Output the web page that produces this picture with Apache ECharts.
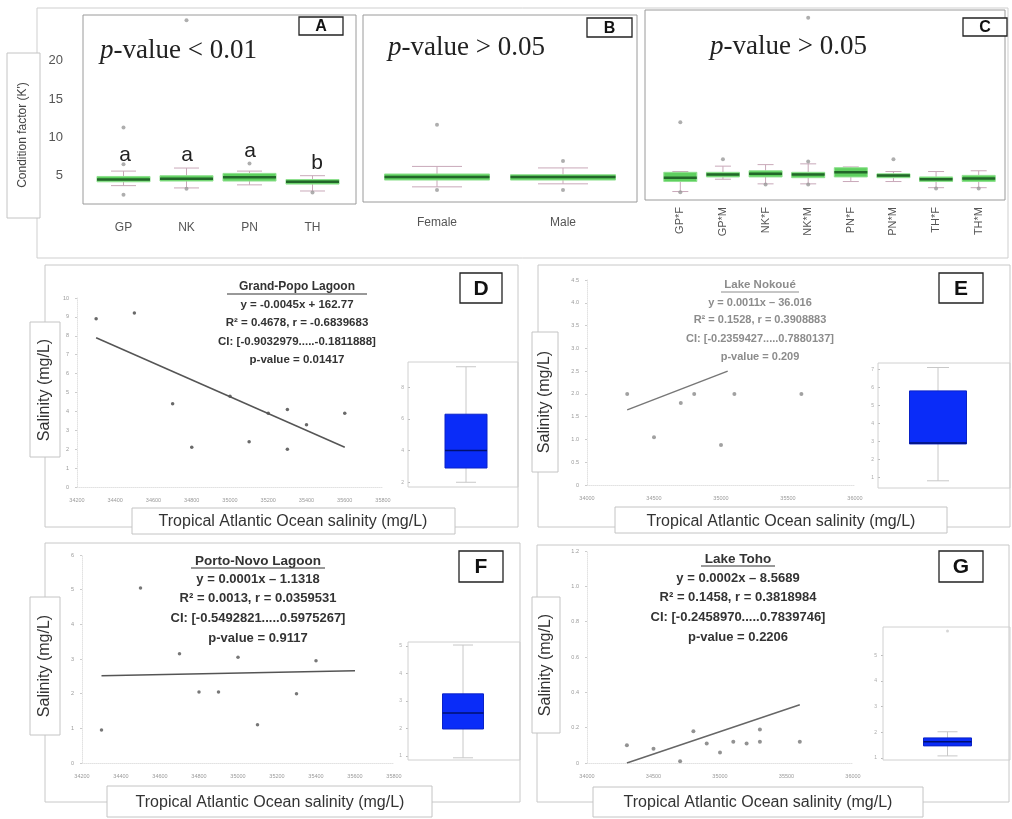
<!DOCTYPE html>
<html><head><meta charset="utf-8">
<script src="https://cdn.jsdelivr.net/npm/echarts@6/dist/echarts.min.js"></script>
<style>html,body{margin:0;padding:0;background:#fff}#c{width:1012px;height:819px}</style>
</head><body><div id="c"></div>
<script>
// ---------- DATA ----------
var catsA = ['GP','NK','PN','TH'];
var boxA = [[3.7,4.2,4.5,4.9,5.6],[3.4,4.3,4.6,5.0,6.0],[3.8,4.3,4.8,5.3,5.6],[3.0,3.9,4.2,4.5,5.0]];
var outA = [[0,11.3],[0,6.5],[0,2.5],[1,25.3],[1,3.3],[2,6.6],[3,2.8]];
var lettersA = ['a','a','a','b'];

var catsB = ['Female','Male'];
var boxB = [[3.3,4.2,4.6,5.0,6.0],[3.7,4.2,4.6,4.9,5.8]];
var outB = [[0,11.5],[0,2.9],[1,6.7],[1,2.9]];

var catsC = ['GP*F','GP*M','NK*F','NK*M','PN*F','PN*M','TH*F','TH*M'];
var boxC = [[2.4,3.7,4.2,4.9,5.0],[4.0,4.3,4.6,4.9,5.7],[3.4,4.3,4.7,5.1,5.9],[3.4,4.2,4.6,4.9,6.0],
            [3.7,4.3,4.9,5.5,5.6],[3.7,4.2,4.5,4.7,5.0],[2.9,3.7,4.0,4.3,5.0],[2.9,3.7,4.1,4.5,5.1]];
var outC = [[0,11.4],[0,2.3],[1,6.6],[2,3.3],[3,25.0],[3,6.3],[3,3.3],[5,6.6],[6,2.8],[7,2.8]];

var xD = [34300,34500,34700,34800,35000,35100,35200,35300,35300,35400,35600];
var yD = [8.9,9.2,4.4,2.1,4.8,2.4,3.9,4.1,2.0,3.3,3.9];
var trendD = [[34300,7.9],[35600,2.1]];
var insetD = [2.0,2.9,4.0,6.3,9.3];

var xE = [34300,34500,34700,34800,35000,35100,35600];
var yE = [2.0,1.05,1.8,2.0,0.88,2.0,2.0];
var trendE = [[34300,1.65],[35050,2.5]];
var insetE = [0.8,2.85,2.9,5.8,7.1];

var xF = [34300,34500,34700,34800,34900,35000,35100,35300,35400];
var yF = [0.95,5.05,3.15,2.05,2.05,3.05,1.1,2.0,2.95];
var trendF = [[34300,2.52],[35600,2.66]];
var insetF = [0.93,1.98,2.56,3.26,5.04];

var xG = [34300,34500,34700,34800,34900,35000,35100,35200,35300,35300,35600];
var yG = [0.10,0.08,0.01,0.18,0.11,0.06,0.12,0.11,0.19,0.12,0.12];
var trendG = [[34300,0.0],[35600,0.33]];
var insetG = [1.08,1.47,1.63,1.78,2.02];
var insetGOut = [5.94];

var statsD = ['Grand-Popo Lagoon','y = -0.0045x + 162.77','R\u00b2 = 0.4678, r = -0.6839683','CI: [-0.9032979.....-0.1811888]','p-value = 0.01417'];
var statsE = ['Lake Nokou\u00e9','y = 0.0011x \u2013 36.016','R\u00b2 = 0.1528, r = 0.3908883','CI: [-0.2359427.....0.7880137]','p-value = 0.209'];
var statsF = ['Porto-Novo Lagoon','y = 0.0001x \u2013 1.1318','R\u00b2 = 0.0013, r = 0.0359531','CI: [-0.5492821.....0.5975267]','p-value = 0.9117'];
var statsG = ['Lake Toho','y = 0.0002x \u2013 8.5689','R\u00b2 = 0.1458, r = 0.3818984','CI: [-0.2458970.....0.7839746]','p-value = 0.2206'];

// ---------- HELPERS ----------
var SANS = 'Liberation Sans, Arial, sans-serif';
var SERIF = 'Liberation Serif, Times New Roman, serif';
function zip(xs, ys){ return xs.map(function(x,i){ return [x, ys[i]]; }); }
function boxRender(bw, cw, fill, edge, med, wh, medW){
  return function(params, api){
    var x = api.value(0);
    var lo = api.coord([x, api.value(1)]), q1 = api.coord([x, api.value(2)]),
        md = api.coord([x, api.value(3)]), q3 = api.coord([x, api.value(4)]),
        hi = api.coord([x, api.value(5)]);
    var cx = lo[0];
    return {type:'group', children:[
      {type:'line', shape:{x1:cx,y1:hi[1],x2:cx,y2:q3[1]}, style:{stroke:wh,lineWidth:1}},
      {type:'line', shape:{x1:cx,y1:q1[1],x2:cx,y2:lo[1]}, style:{stroke:wh,lineWidth:1}},
      {type:'line', shape:{x1:cx-cw/2,y1:hi[1],x2:cx+cw/2,y2:hi[1]}, style:{stroke:wh,lineWidth:1}},
      {type:'line', shape:{x1:cx-cw/2,y1:lo[1],x2:cx+cw/2,y2:lo[1]}, style:{stroke:wh,lineWidth:1}},
      {type:'rect', shape:{x:cx-bw/2,y:q3[1],width:bw,height:Math.max(1,q1[1]-q3[1])}, style:{fill:fill,stroke:edge,lineWidth:1}},
      {type:'line', shape:{x1:cx-bw/2,y1:md[1],x2:cx+bw/2,y2:md[1]}, style:{stroke:med,lineWidth:medW}}
    ]};
  };
}
function boxData(arr){ return arr.map(function(b,i){ return [i].concat(b); }); }
function greenBox(idx, arr, bw, cw){
  return {type:'custom', xAxisIndex:idx, yAxisIndex:idx, z:3,
    renderItem: boxRender(bw, cw, '#5fd05f', '#8fe08f', '#23672a', '#c9a9b9', 2.5),
    encode:{x:0, y:[1,2,3,4,5]}, data: boxData(arr)};
}
function blueBox(idx, arr, bw, cw){
  return {type:'custom', xAxisIndex:idx, yAxisIndex:idx, z:3,
    renderItem: boxRender(bw, cw, '#0a2cf8', '#0a22c8', '#001070', '#c8c8c8', 1.5),
    encode:{x:0, y:[1,2,3,4,5]}, data: [[0].concat(arr)]};
}
function outliers(idx, data, color, size){
  return {type:'scatter', xAxisIndex:idx, yAxisIndex:idx, symbolSize:size||4, z:4,
    itemStyle:{color:color||'#9a9a9a'}, data:data};
}
var plain = function(v){ return String(v); };
function valX(idx, min, max, interval){
  return {type:'value', gridIndex:idx, min:min, max:max, interval:interval,
    splitLine:{show:false}, axisLine:{show:true, lineStyle:{color:'#e2e2e2', type:'dotted'}},
    axisTick:{show:false}, axisLabel:{fontSize:5.5, color:'#9a9a9a', margin:10, fontFamily:SANS, formatter:plain}};
}
function valY(idx, min, max, interval, fmt){
  return {type:'value', gridIndex:idx, min:min, max:max, interval:interval,
    splitLine:{show:false}, axisLine:{show:true, lineStyle:{color:'#e2e2e2', type:'dotted'}},
    axisTick:{show:true, length:2, lineStyle:{color:'#ccc'}},
    axisLabel:{fontSize:5.5, color:'#9a9a9a', margin:8, fontFamily:SANS, formatter:fmt || plain}};
}
function catX(idx, cats, opts){
  var o = {type:'category', gridIndex:idx, data:cats, boundaryGap:true,
    axisLine:{show:false}, axisTick:{show:false},
    axisLabel:{fontSize:12, color:'#555', fontFamily:SANS, margin:18, interval:0}};
  if (opts) for (var k in opts) o.axisLabel[k] = opts[k];
  return o;
}
function condY(idx, show){
  return {type:'value', gridIndex:idx, min:1.3, max:26, splitLine:{show:false},
    axisLine:{show:false}, axisTick:{show:false},
    axisLabel:{show:show, customValues:[5,10,15,20], fontSize:13, color:'#555', margin:29, fontFamily:SANS}};
}
function insetX(idx){
  return {type:'category', gridIndex:idx, data:['s'], show:false};
}
function insetY(idx, min, max, vals){
  return {type:'value', gridIndex:idx, min:min, max:max, splitLine:{show:false},
    axisLine:{show:false}, axisTick:{show:true, length:2, customValues:vals, lineStyle:{color:'#bbb'}},
    axisLabel:{customValues:vals, fontSize:5, color:'#aaa', margin:6, fontFamily:SANS}};
}
var fmt1 = function(v){ return v === 0 ? '0' : v.toFixed(1); };

// ---------- GRAPHIC ----------
var G = [];
function frame(x,y,w,h,color,z,lw){ G.push({type:'rect', z:z||1, shape:{x:x,y:y,width:w,height:h}, style:{fill:null, stroke:color, lineWidth:lw||1}}); }
function labelBox(x,y,w,h){ G.push({type:'rect', z:8, shape:{x:x,y:y,width:w,height:h}, style:{fill:'#fff', stroke:'#c4c4c4', lineWidth:1}}); }
function txt(t,x,y,size,opts){
  var s = {text:t, x:0, y:0, fontSize:size, fontFamily:SANS, fill:'#333', align:'center', verticalAlign:'middle'};
  var o = {type:'text', z:9, x:x, y:y, style:s};
  if (opts) { for (var k in opts) { if (k==='rotation') o.rotation = opts[k]; else s[k] = opts[k]; } }
  G.push(o);
}
function letterBox(L,x,y,w,h,size){
  G.push({type:'rect', z:8, shape:{x:x,y:y,width:w,height:h}, style:{fill:'#fff', stroke:'#222', lineWidth:1.3}});
  txt(L, x+w/2, y+h/2+1, size, {fontWeight:'bold', fill:'#111'});
}
function statsBlock(lines, cx, ys, size, color, ulw){
  for (var i=0;i<lines.length;i++){
    txt(lines[i], cx, ys[i], i===0 ? size+0.5 : size, {fontWeight:'bold', fill:color});
  }
  G.push({type:'line', z:9, shape:{x1:cx-ulw/2, y1:ys[0]+7, x2:cx+ulw/2, y2:ys[0]+7}, style:{stroke:color, lineWidth:1}});
}
function pval(t, x, y){
  G.push({type:'text', z:9, x:x, y:y, style:{text:'{i|p}'+t, fontSize:27, fontFamily:SERIF, fill:'#222', verticalAlign:'middle', align:'left',
    rich:{i:{fontStyle:'italic', fontSize:27, fontFamily:SERIF, fill:'#222'}}}});
}

// outer frames
frame(37,8,971,250,'#cfcfcf');
frame(45,265,473,262,'#c8c8c8');
frame(538,265,472,262,'#c8c8c8');
frame(45,543,475,259,'#c8c8c8');
frame(537,545,472,257,'#c8c8c8');
// inner plot frames top row
frame(83,15,273,189,'#9a9a9a',2);
frame(363,15,274,187,'#9a9a9a',2);
frame(645,10,360,190,'#9a9a9a',2);
// inset frames
frame(408,362,110,125,'#d0d0d0',2);
frame(878,363,132,125,'#d0d0d0',2);
frame(408,642,112,118,'#d0d0d0',2);
frame(883,627,127,133,'#d0d0d0',2);

// label boxes
labelBox(7,53,33,165); txt("Condition factor (K')", 23, 135, 12, {rotation:Math.PI/2, fill:'#444'});
labelBox(30,322,30,135); txt('Salinity (mg/L)', 45, 390, 16, {rotation:Math.PI/2});
labelBox(132,508,323,26); txt('Tropical Atlantic Ocean salinity (mg/L)', 293, 522, 16);
labelBox(532,332,26,140); txt('Salinity (mg/L)', 545, 402, 16, {rotation:Math.PI/2});
labelBox(615,507,332,26); txt('Tropical Atlantic Ocean salinity (mg/L)', 781, 522, 16);
labelBox(30,597,30,138); txt('Salinity (mg/L)', 45, 666, 16, {rotation:Math.PI/2});
labelBox(107,786,325,31); txt('Tropical Atlantic Ocean salinity (mg/L)', 270, 803, 16);
labelBox(532,597,28,136); txt('Salinity (mg/L)', 546, 665, 16, {rotation:Math.PI/2});
labelBox(593,787,330,30); txt('Tropical Atlantic Ocean salinity (mg/L)', 758, 803, 16);

// p-values and letters
pval('-value < 0.01', 100, 51);
pval('-value > 0.05', 388, 48);
pval('-value > 0.05', 710, 47);
letterBox('A',299,17,44,18,16);
letterBox('B',587,18,45,19,16);
letterBox('C',963,18,44,18,16);
var letterPos = [[125,155],[187,155],[250,151],[317,163]];
lettersA.forEach(function(l,i){ txt(l, letterPos[i][0], letterPos[i][1], 21, {fill:'#222'}); });

letterBox('D',460,273,42,30,21);
letterBox('E',939,273,44,30,21);
letterBox('F',459,551,44,31,21);
letterBox('G',939,551,44,31,21);

statsBlock(statsD, 297, [287,305,323,342,360], 11.5, '#333', 140);
statsBlock(statsE, 760, [285,303,320,339,357], 11, '#8c8c8c', 78);
statsBlock(statsF, 258, [561,579,598,618,638], 13, '#333', 134);
statsBlock(statsG, 738, [559,578,597,617,637], 13, '#333', 74);

// ---------- CHART ----------
var chart = echarts.init(document.getElementById('c'), null, {renderer:'canvas'});
chart.setOption({
  animation:false,
  backgroundColor:'#fff',
  grid:[
    {left:92, top:15, width:252, height:189},
    {left:374, top:15, width:252, height:187},
    {left:659, top:10, width:341, height:190},
    {left:77, top:298, width:306, height:189},
    {left:587, top:280, width:268, height:205},
    {left:82, top:555, width:312, height:208},
    {left:587, top:551, width:266, height:212},
    {left:410, top:362, width:112, height:125},
    {left:880, top:363, width:116, height:125},
    {left:408, top:642, width:110, height:118},
    {left:883, top:627, width:130, height:133}
  ],
  xAxis:[
    catX(0, catsA),
    catX(1, catsB, {margin:15}),
    catX(2, catsC, {rotate:90, margin:7, fontSize:11}),
    valX(3, 34200, 35800, 200),
    valX(4, 34000, 36000, 500),
    valX(5, 34200, 35800, 200),
    valX(6, 34000, 36000, 500),
    insetX(7), insetX(8), insetX(9), insetX(10)
  ],
  yAxis:[
    condY(0, true), condY(1, false), condY(2, false),
    valY(3, 0, 10, 1),
    valY(4, 0, 4.5, 0.5, fmt1),
    valY(5, 0, 6, 1),
    valY(6, 0, 1.2, 0.2, fmt1),
    insetY(7, 1.7, 9.6, [2,4,6,8]),
    insetY(8, 0.4, 7.35, [1,2,3,4,5,6,7]),
    insetY(9, 0.85, 5.15, [1,2,3,4,5]),
    insetY(10, 0.92, 6.1, [1,2,3,4,5])
  ],
  series:[
    greenBox(0, boxA, 53, 25), outliers(0, outA),
    greenBox(1, boxB, 105, 50), outliers(1, outB),
    greenBox(2, boxC, 33, 16), outliers(2, outC),
    {type:'scatter', xAxisIndex:3, yAxisIndex:3, symbolSize:3.5, itemStyle:{color:'#444'}, data:zip(xD,yD)},
    {type:'line', xAxisIndex:3, yAxisIndex:3, showSymbol:false, lineStyle:{color:'#555', width:1.5}, data:trendD},
    {type:'scatter', xAxisIndex:4, yAxisIndex:4, symbolSize:4, itemStyle:{color:'#8a8a8a'}, data:zip(xE,yE)},
    {type:'line', xAxisIndex:4, yAxisIndex:4, showSymbol:false, lineStyle:{color:'#777', width:1.5}, data:trendE},
    {type:'scatter', xAxisIndex:5, yAxisIndex:5, symbolSize:3.5, itemStyle:{color:'#555'}, data:zip(xF,yF)},
    {type:'line', xAxisIndex:5, yAxisIndex:5, showSymbol:false, lineStyle:{color:'#555', width:1.5}, data:trendF},
    {type:'scatter', xAxisIndex:6, yAxisIndex:6, symbolSize:4, itemStyle:{color:'#777'}, data:zip(xG,yG)},
    {type:'line', xAxisIndex:6, yAxisIndex:6, showSymbol:false, lineStyle:{color:'#666', width:1.5}, data:trendG},
    blueBox(7, insetD, 42, 20),
    blueBox(8, insetE, 57, 22),
    blueBox(9, insetF, 41, 20),
    blueBox(10, insetG, 48, 20),
    outliers(10, insetGOut.map(function(v){ return [0, v]; }), '#ccc', 3)
  ],
  graphic: G
});
</script>
</body></html>
